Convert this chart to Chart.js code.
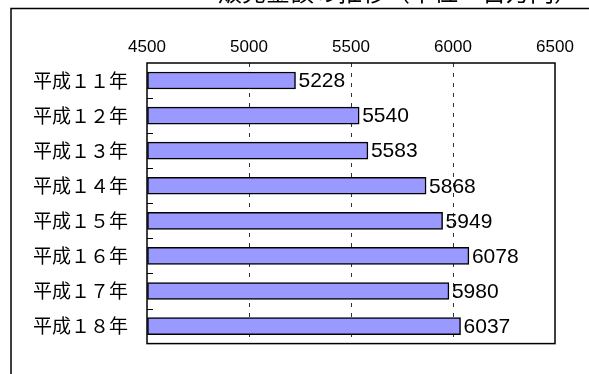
<!DOCTYPE html>
<html lang="ja">
<head>
<meta charset="UTF-8">
<title>販売金額の推移</title>
<script src="https://cdn.jsdelivr.net/npm/chart.js"></script>
<style>
    body { margin: 0; background: #fff; }
    #chart { display: block; }
</style>
</head>
<body>
<canvas id="chart" width="589" height="374"></canvas>
<script>
    // 年次と金額
    const years = ['平成１１年', '平成１２年', '平成１３年', '平成１４年', '平成１５年', '平成１６年', '平成１７年', '平成１８年'];
    const amounts = [5228, 5540, 5583, 5868, 5949, 6078, 5980, 6037];
    const axisMin = 4500;
    const axisMax = 6500;
    const axisStep = 500;
    const titleText = '販売金額の推移（単位：百万円）';

    // 外枠・プロット枠・目盛り・数値ラベル
    const decorations = {
        id: 'decorations',
        beforeDraw(chart) {
            const ctx = chart.ctx;
            ctx.save();
            ctx.fillStyle = '#000';
            ctx.font = '24px "Noto Sans CJK JP"';
            ctx.textAlign = 'right';
            ctx.textBaseline = 'alphabetic';
            ctx.fillText(titleText, 578, 1);
            ctx.strokeStyle = '#000';
            ctx.lineWidth = 1.5;
            ctx.strokeRect(11, 8.5, 700, 500);
            ctx.restore();
        },
        afterDatasetsDraw(chart) {
            const ctx = chart.ctx;
            const a = chart.chartArea;
            ctx.save();
            // 区切りの短い目盛り
            ctx.strokeStyle = '#000';
            ctx.lineWidth = 1;
            const step = (a.bottom - a.top) / years.length;
            for (let i = 1; i < years.length; i++) {
                const y = Math.round(a.top + step * i) + 0.5;
                ctx.beginPath();
                ctx.moveTo(a.left, y);
                ctx.lineTo(a.left + 6, y);
                ctx.stroke();
            }
            ctx.lineWidth = 1.5;
            ctx.strokeRect(a.left, a.top, a.right - a.left, a.bottom - a.top);

            // 数値ラベル
            ctx.fillStyle = '#000';
            ctx.font = '21px Arial, "Liberation Sans"';
            ctx.textAlign = 'left';
            ctx.textBaseline = 'middle';
            chart.getDatasetMeta(0).data.forEach((bar, i) => {
                ctx.fillText(String(amounts[i]), bar.x + 3, bar.y + 1);
            });
            ctx.restore();
        }
    };

    new Chart(document.getElementById('chart'), {
        type: 'bar',
        data: {
            labels: years,
            datasets: [{
                data: amounts,
                base: axisMin,
                backgroundColor: '#9999FF',
                borderColor: '#000',
                borderWidth: 1.5,
                borderSkipped: false,
                barThickness: 17
            }]
        },
        options: {
            indexAxis: 'y',
            responsive: false,
            devicePixelRatio: 1,
            animation: false,
            layout: { padding: { top: 0, left: 0, right: 34, bottom: 13 } },
            plugins: {
                legend: { display: false },
                tooltip: { enabled: false }
            },
            scales: {
                x: {
                    type: 'linear',
                    position: 'top',
                    min: axisMin,
                    max: axisMax,
                    afterFit(scale) { scale.height = 63; },
                    ticks: {
                        stepSize: axisStep,
                        color: '#000',
                        padding: 5,
                        font: { family: 'Arial, "Liberation Sans"', size: 17 },
                        callback: v => String(v)
                    },
                    grid: {
                        drawTicks: false,
                        lineWidth: 1,
                        color: c => (c.tick && (c.tick.value === axisMin || c.tick.value === axisMax)) ? 'rgba(0,0,0,0)' : '#333'
                    },
                    border: { display: false, dash: [4, 6] }
                },
                y: {
                    afterFit(scale) { scale.width = 147; },
                    ticks: {
                        color: '#000',
                        padding: 19,
                        font: { family: '"Noto Sans CJK JP"', size: 19 }
                    },
                    grid: { display: false, drawTicks: false },
                    border: { display: false }
                }
            }
        },
        plugins: [decorations]
    });
</script>
</body>
</html>
